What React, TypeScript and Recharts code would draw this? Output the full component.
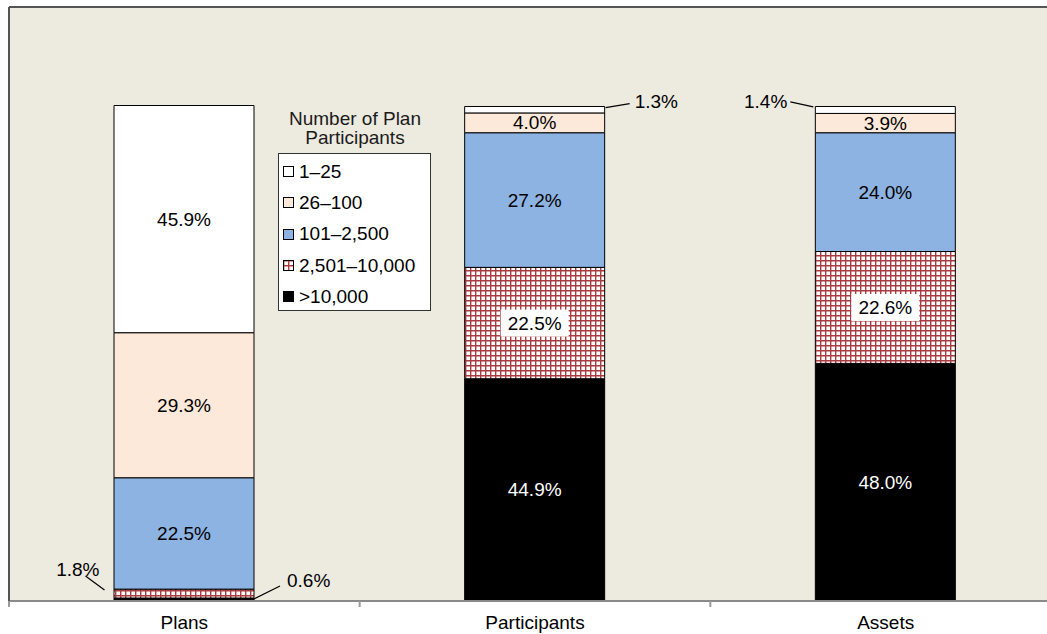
import React from 'react';
import { BarChart, Bar, XAxis, YAxis, CartesianGrid, Legend, LabelList } from 'recharts';

const categories = ['Plans', 'Participants', 'Assets'];
const size1to25 = [45.9, 1.3, 1.4];
const size26to100 = [29.3, 4.0, 3.9];
const size101to2500 = [22.5, 27.2, 24.0];
const size2501to10000 = [1.8, 22.5, 22.6];
const sizeOver10000 = [0.6, 44.9, 48.0];
const legendOrder = ['1–25', '26–100', '101–2,500', '2,501–10,000', '>10,000'];

const data = categories.map((name, i) => ({
  name,
  over10000: sizeOver10000[i],
  s2501to10000: size2501to10000[i],
  s101to2500: size101to2500[i],
  s26to100: size26to100[i],
  s1to25: size1to25[i],
}));

const FONT = '"Liberation Sans", Arial, sans-serif';
const FS = 19;
const TICK_MARGIN = 15;

// small slices get a leader line and an outside label
const callouts: Record<string, { side: number; l0: [number, number]; l1: [number, number]; t: [number, number] }> = {
  's2501to10000-0': { side: -1, l0: [9.5, -3.5], l1: [28.5, -17.5], t: [14.5, -17.5] },
  'over10000-0': { side: 1, l0: [0, -0.5], l1: [26, -13.5], t: [33, -12.5] },
  's1to25-1': { side: 1, l0: [1, -2], l1: [25, -6], t: [30, -1.5] },
  's1to25-2': { side: -1, l0: [2, -3], l1: [25, -8], t: [28, -2] },
};

const makeLabel = (key: string, textColor: string, boxed: boolean) => (props: any) => {
  const vb = props.viewBox || props;
  const x = Number(vb.x);
  const w = Number(vb.width);
  const top = Math.min(Number(vb.y), Number(vb.y) + Number(vb.height));
  const h = Math.abs(Number(vb.height));
  const label = `${Number(props.value).toFixed(1)}%`;
  const c = callouts[`${key}-${props.index}`];
  const midY = top + h / 2;
  if (c) {
    const edge = c.side > 0 ? x + w : x;
    return (
      <g>
        <line
          x1={edge + c.side * c.l0[0]}
          y1={midY + c.l0[1]}
          x2={edge + c.side * c.l1[0]}
          y2={midY + c.l1[1]}
          stroke="#000"
          strokeWidth={1.2}
        />
        <text
          x={edge + c.side * c.t[0]}
          y={midY + c.t[1]}
          textAnchor={c.side > 0 ? 'start' : 'end'}
          fontFamily={FONT}
          fontSize={FS}
          fill="#000"
        >
          {label}
        </text>
      </g>
    );
  }
  const cx = x + w / 2;
  return (
    <g>
      {boxed && <rect x={cx - 34} y={midY - 13.5} width={68} height={27} fill="#fff" />}
      <text x={cx} y={midY} textAnchor="middle" dominantBaseline="central" fontFamily={FONT} fontSize={FS} fill={textColor}>
        {label}
      </text>
    </g>
  );
};

const CategoryTick = (props: any) => {
  const { x, y, payload, index } = props;
  const off = payload.offset || 0;
  const axisY = y - TICK_MARGIN;
  return (
    <g>
      <line x1={x - off} x2={x - off} y1={axisY} y2={axisY + 6} stroke="#9a9a9a" strokeWidth={2} />
      {index === categories.length - 1 && (
        <line x1={x + off} x2={x + off} y1={axisY} y2={axisY + 6} stroke="#9a9a9a" strokeWidth={2} />
      )}
      <text x={x} y={y} dy="0.71em" textAnchor="middle" fontFamily={FONT} fontSize={FS} fill="#000">
        {payload.value}
      </text>
    </g>
  );
};

const renderLegend = (props: any) => {
  const items = [...(props.payload || [])].sort(
    (a: any, b: any) => legendOrder.indexOf(a.value) - legendOrder.indexOf(b.value)
  );
  return (
    <div style={{ width: 170, fontFamily: FONT, fontSize: FS, color: '#000' }}>
      <div style={{ textAlign: 'center', lineHeight: '19px', color: '#1a1a1a' }}>
        Number of Plan
        <br />
        Participants
      </div>
      <div
        style={{
          marginLeft: 8,
          marginTop: 6,
          width: 153,
          height: 158,
          boxSizing: 'border-box',
          border: '1px solid #333',
          background: '#fff',
          paddingTop: 2,
          paddingLeft: 4,
        }}
      >
        {items.map((it: any) => (
          <div key={it.value} style={{ height: 31.3, display: 'flex', alignItems: 'center' }}>
            <svg width={11} height={11} style={{ marginRight: 5, flex: 'none' }}>
              <rect x={0.5} y={0.5} width={10} height={10} fill={it.color} stroke="#000" strokeWidth={1} />
            </svg>
            <span style={{ whiteSpace: 'nowrap' }}>{it.value}</span>
          </div>
        ))}
      </div>
    </div>
  );
};

export default function App() {
  return (
    <div style={{ position: 'absolute', left: 0, top: 0, width: 1047, height: 634, overflow: 'hidden', background: '#fff' }}>
      <BarChart width={1061} height={634} data={data} margin={{ top: 6, right: 0, left: 8, bottom: 0 }} barSize={140}>
        <defs>
          <pattern id="redGrid" width={5} height={5} patternUnits="userSpaceOnUse">
            <rect width={5} height={5} fill="#fff" />
            <path d="M0 0.7H5 M0.7 0V5" stroke="#A83C40" strokeWidth={1.4} />
          </pattern>
        </defs>
        <CartesianGrid xAxisId="cat" horizontal={false} vertical={false} fill="#EDEAE0" fillOpacity={1} />
        <XAxis
          xAxisId="top"
          orientation="top"
          dataKey="name"
          height={1}
          tick={false}
          tickLine={false}
          axisLine={{ stroke: '#555', strokeWidth: 2 }}
        />
        <XAxis
          xAxisId="cat"
          dataKey="name"
          height={33}
          tickLine={false}
          tickSize={0}
          tickMargin={TICK_MARGIN}
          axisLine={{ stroke: '#8a8a8a', strokeWidth: 2 }}
          tick={<CategoryTick />}
          interval={0}
        />
        <YAxis
          type="number"
          domain={[0, 120]}
          width={1}
          tick={false}
          tickLine={false}
          axisLine={{ stroke: '#555', strokeWidth: 2 }}
        />
        <Legend
          content={renderLegend}
          layout="horizontal"
          verticalAlign="middle"
          align="center"
          wrapperStyle={{ left: 270, top: 109, width: 170 }}
        />
        <Bar xAxisId="cat" dataKey="over10000" name=">10,000" stackId="s" fill="#000" stroke="#000" strokeWidth={1} isAnimationActive={false}>
          <LabelList dataKey="over10000" content={makeLabel('over10000', '#fff', false)} />
        </Bar>
        <Bar xAxisId="cat" dataKey="s2501to10000" name="2,501–10,000" stackId="s" fill="url(#redGrid)" stroke="#000" strokeWidth={1} isAnimationActive={false}>
          <LabelList dataKey="s2501to10000" content={makeLabel('s2501to10000', '#000', true)} />
        </Bar>
        <Bar xAxisId="cat" dataKey="s101to2500" name="101–2,500" stackId="s" fill="#8DB3E2" stroke="#000" strokeWidth={1} isAnimationActive={false}>
          <LabelList dataKey="s101to2500" content={makeLabel('s101to2500', '#000', false)} />
        </Bar>
        <Bar xAxisId="cat" dataKey="s26to100" name="26–100" stackId="s" fill="#FDE9D9" stroke="#000" strokeWidth={1} isAnimationActive={false}>
          <LabelList dataKey="s26to100" content={makeLabel('s26to100', '#000', false)} />
        </Bar>
        <Bar xAxisId="cat" dataKey="s1to25" name="1–25" stackId="s" fill="#fff" stroke="#000" strokeWidth={1} isAnimationActive={false}>
          <LabelList dataKey="s1to25" content={makeLabel('s1to25', '#000', false)} />
        </Bar>
      </BarChart>
    </div>
  );
}
